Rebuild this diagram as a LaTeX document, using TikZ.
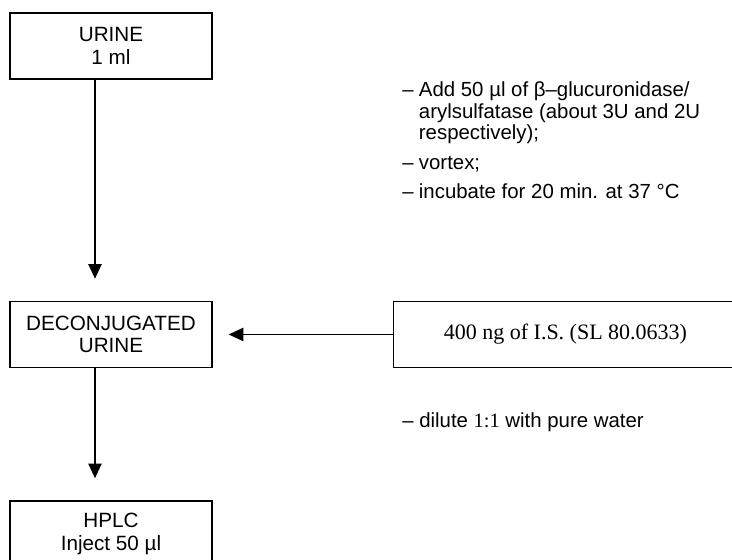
\documentclass[tikz,border=0pt]{standalone}
\usepackage{fontspec}
\setmainfont{Liberation Sans}
\newfontfamily\timesfont{Liberation Serif}
\usetikzlibrary{arrows.meta, positioning, calc}

\tikzset{
  stage/.style={draw, line width=1.1pt, minimum width=151.5pt, minimum height=49.5pt,
    align=center, inner sep=0pt, font=\fontsize{15.5}{17}\selectfont},
  flow/.style={-{Triangle[length=11pt, width=10pt]}, line width=1.1pt},
  note/.style={inner sep=0pt, font=\fontsize{15.3}{16}\selectfont},
}

\begin{document}
\begin{tikzpicture}[x=0.75pt, y=-0.75pt]
    \useasboundingbox (0,0) rectangle (732,560);
    \node[stage] (urine) at (111,46) {URINE\\1 ml};
    \node[stage] (deconj) [below=165.75pt of urine] {DECONJUGATED\\URINE};
    \node[stage] (hplc) [below=99pt of deconj] {HPLC\\Inject 50 µl};
    \node[stage, minimum width=258pt, font=\timesfont\fontsize{16.5}{18}\selectfont] (istd) [right=135pt of deconj] {400 ng of I.S. (SL 80.0633)};

    % hydrolysis steps
    \node[note, anchor=base west] (incub) at (402,97) {%
      \begin{tabular}[t]{@{}l@{\hspace{4pt}}l@{}}
        – & Add 50 µl of β–glucuronidase/\\
          & arylsulfatase (about 3U and 2U\\
          & respectively);\\[6.5pt]
        – & vortex;\\[5.75pt]
        – & incubate for 20 min. at 37 °C
      \end{tabular}};
    \node[note, anchor=base west] (dilute) at (402,427) {– dilute {\timesfont 1:1} with pure water};

    \draw[flow, shorten >=16.5pt] ([xshift=-12pt]urine.south) -- ([xshift=-12pt]deconj.north);
    \draw[flow, shorten >=16.5pt] ([xshift=-12pt]deconj.south) -- ([xshift=-12pt]hplc.north);
    \draw[flow, shorten >=12pt] (istd.west) -- (deconj.east);
\end{tikzpicture}
\end{document}
